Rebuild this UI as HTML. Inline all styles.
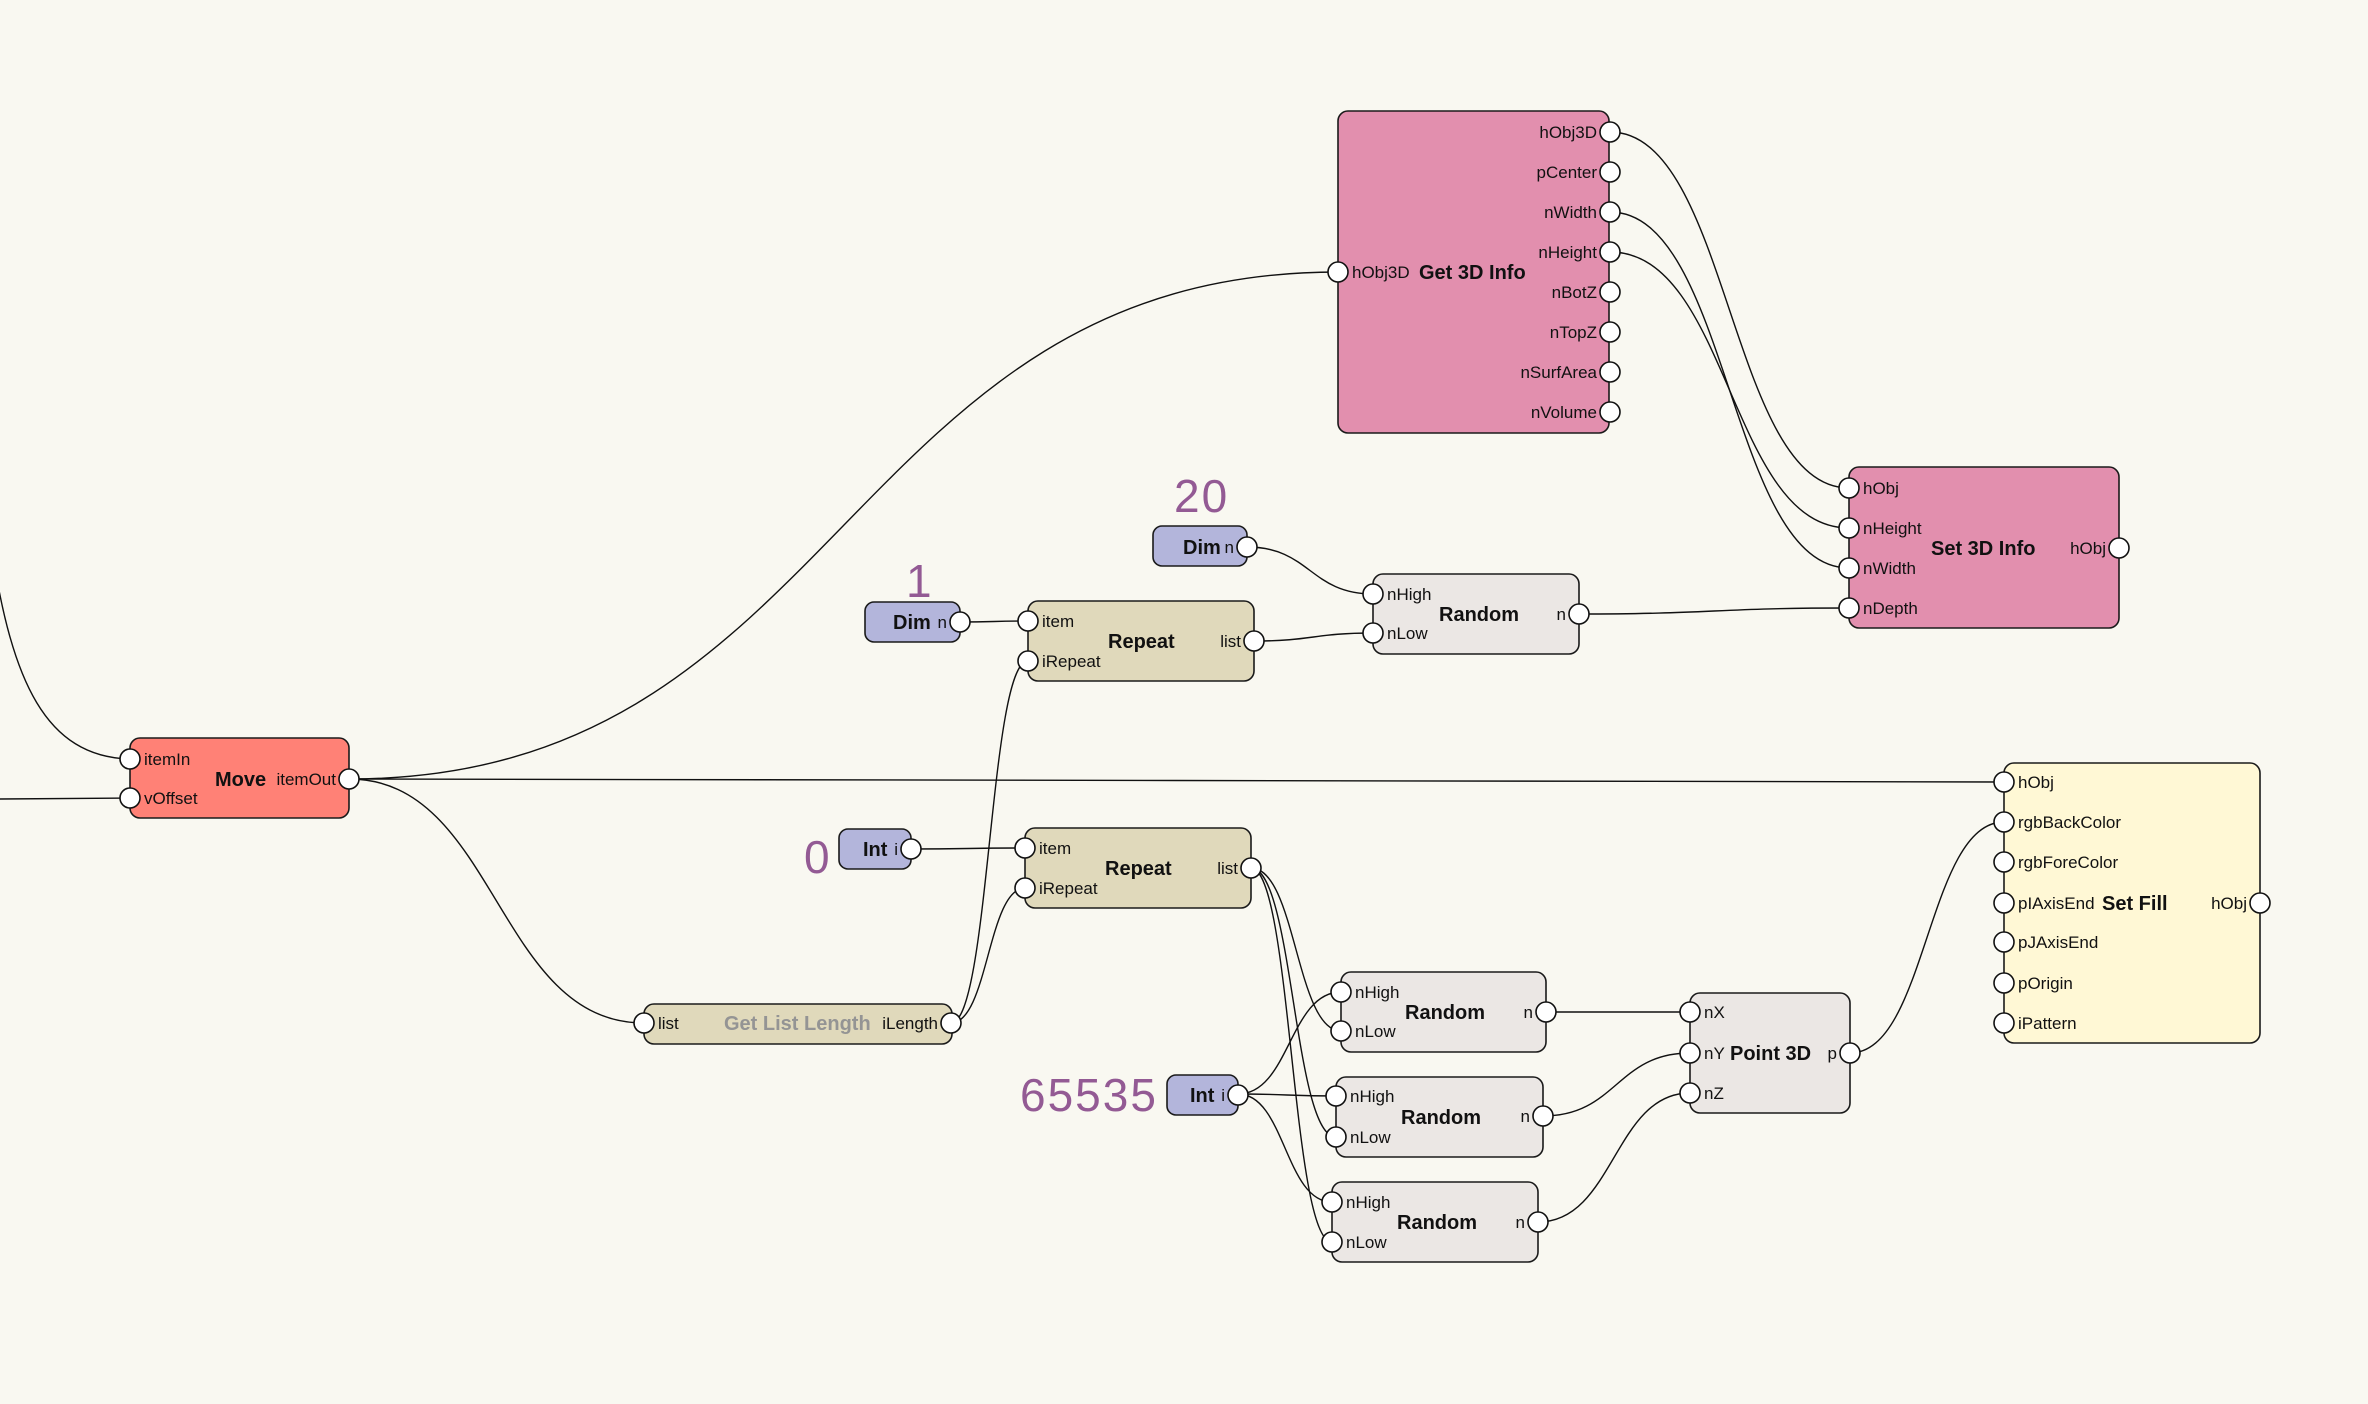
<!DOCTYPE html>
<html><head><meta charset="utf-8"><style>
html,body{margin:0;padding:0;background:#f9f8f1;}
svg{display:block;}
text{font-family:"Liberation Sans",sans-serif;}
.l{font-size:17px;fill:#111;}
.t{font-size:20px;font-weight:bold;fill:#111;}
.num{font-size:46px;fill:#935a94;letter-spacing:2px;}
.e{fill:none;stroke:#111;stroke-width:1.4;}
.n{stroke:#1a1a1a;stroke-width:1.6;}
.p{fill:#fff;stroke:#111;stroke-width:1.6;}
</style></head><body>
<svg width="2368" height="1404" viewBox="0 0 2368 1404" xmlns="http://www.w3.org/2000/svg">
<rect width="2368" height="1404" fill="#f9f8f1"/>
<!-- edges -->
<g class="e">
<path d="M -8 550 C 12 680, 45 757, 130 759"/>
<path d="M 0 799 L 130 798"/>
<path d="M 349 779 C 843.5 779, 843.5 272, 1338 272"/>
<path d="M 349 779 C 1176.5 779, 1176.5 782, 2004 782"/>
<path d="M 349 779 C 496.5 779, 496.5 1023, 644 1023"/>
<path d="M 1610 132 C 1729.5 132, 1729.5 488, 1849 488"/>
<path d="M 1610 212 C 1729.5 212, 1729.5 568, 1849 568"/>
<path d="M 1610 252 C 1729.5 252, 1729.5 528, 1849 528"/>
<path d="M 1579 614 C 1714 614, 1714 608, 1849 608"/>
<path d="M 1247 547 C 1310 547, 1310 594, 1373 594"/>
<path d="M 1254 641 C 1313.5 641, 1313.5 633, 1373 633"/>
<path d="M 960 622 C 994 622, 994 621, 1028 621"/>
<path d="M 911 849 C 968 849, 968 848, 1025 848"/>
<path d="M 951 1023 C 989.5 1023, 989.5 661, 1028 661"/>
<path d="M 951 1023 C 988 1023, 988 888, 1025 888"/>
<path d="M 1251 868 C 1296 868, 1296 1031, 1341 1031"/>
<path d="M 1251 868 C 1293.5 868, 1293.5 1137, 1336 1137"/>
<path d="M 1251 868 C 1291.5 868, 1291.5 1242, 1332 1242"/>
<path d="M 1238 1094 C 1289.5 1094, 1289.5 992, 1341 992"/>
<path d="M 1238 1094 C 1287 1094, 1287 1096, 1336 1096"/>
<path d="M 1238 1094 C 1285 1094, 1285 1202, 1332 1202"/>
<path d="M 1546 1012 L 1690 1012"/>
<path d="M 1543 1116 C 1616.5 1116, 1616.5 1053, 1690 1053"/>
<path d="M 1538 1222 C 1614 1222, 1614 1093, 1690 1093"/>
<path d="M 1850 1053 C 1927 1053, 1927 822, 2004 822"/>
</g>

<!-- nodes -->
<g class="n">
<rect x="1338" y="111" width="271" height="322" rx="10" fill="#e28fae"/>
<rect x="1849" y="467" width="270" height="161" rx="10" fill="#e28fae"/>
<rect x="130" y="738" width="219" height="80" rx="10" fill="#ff8176"/>
<rect x="1153" y="526" width="94" height="40" rx="9" fill="#b3b5db"/>
<rect x="865" y="602" width="95" height="40" rx="9" fill="#b3b5db"/>
<rect x="839" y="829" width="72" height="40" rx="9" fill="#b3b5db"/>
<rect x="1167" y="1075" width="71" height="40" rx="9" fill="#b3b5db"/>
<rect x="1028" y="601" width="226" height="80" rx="10" fill="#e0d9bb"/>
<rect x="1025" y="828" width="226" height="80" rx="10" fill="#e0d9bb"/>
<rect x="644" y="1004" width="308" height="40" rx="10" fill="#e0d9bb"/>
<rect x="1373" y="574" width="206" height="80" rx="10" fill="#ebe7e4"/>
<rect x="1341" y="972" width="205" height="80" rx="10" fill="#ebe7e4"/>
<rect x="1336" y="1077" width="207" height="80" rx="10" fill="#ebe7e4"/>
<rect x="1332" y="1182" width="206" height="80" rx="10" fill="#ebe7e4"/>
<rect x="1690" y="993" width="160" height="120" rx="10" fill="#ebe7e4"/>
<rect x="2004" y="763" width="256" height="280" rx="10" fill="#fff8d5"/>
</g>

<!-- ports -->
<g class="p">
<circle cx="1338" cy="272" r="10"/>
<circle cx="1610" cy="132" r="10"/><circle cx="1610" cy="172" r="10"/><circle cx="1610" cy="212" r="10"/><circle cx="1610" cy="252" r="10"/>
<circle cx="1610" cy="292" r="10"/><circle cx="1610" cy="332" r="10"/><circle cx="1610" cy="372" r="10"/><circle cx="1610" cy="412" r="10"/>
<circle cx="1849" cy="488" r="10"/><circle cx="1849" cy="528" r="10"/><circle cx="1849" cy="568" r="10"/><circle cx="1849" cy="608" r="10"/>
<circle cx="2119" cy="548" r="10"/>
<circle cx="130" cy="759" r="10"/><circle cx="130" cy="798" r="10"/><circle cx="349" cy="779" r="10"/>
<circle cx="1247" cy="547" r="10"/>
<circle cx="960" cy="622" r="10"/>
<circle cx="911" cy="849" r="10"/>
<circle cx="1238" cy="1095" r="10"/>
<circle cx="1028" cy="621" r="10"/><circle cx="1028" cy="661" r="10"/><circle cx="1254" cy="641" r="10"/>
<circle cx="1025" cy="848" r="10"/><circle cx="1025" cy="888" r="10"/><circle cx="1251" cy="868" r="10"/>
<circle cx="644" cy="1023" r="10"/><circle cx="951" cy="1023" r="10"/>
<circle cx="1373" cy="594" r="10"/><circle cx="1373" cy="633" r="10"/><circle cx="1579" cy="614" r="10"/>
<circle cx="1341" cy="992" r="10"/><circle cx="1341" cy="1031" r="10"/><circle cx="1546" cy="1012" r="10"/>
<circle cx="1336" cy="1096" r="10"/><circle cx="1336" cy="1137" r="10"/><circle cx="1543" cy="1116" r="10"/>
<circle cx="1332" cy="1202" r="10"/><circle cx="1332" cy="1242" r="10"/><circle cx="1538" cy="1222" r="10"/>
<circle cx="1690" cy="1012" r="10"/><circle cx="1690" cy="1053" r="10"/><circle cx="1690" cy="1093" r="10"/><circle cx="1850" cy="1053" r="10"/>
<circle cx="2004" cy="782" r="10"/><circle cx="2004" cy="822" r="10"/><circle cx="2004" cy="862" r="10"/><circle cx="2004" cy="903" r="10"/>
<circle cx="2004" cy="942" r="10"/><circle cx="2004" cy="983" r="10"/><circle cx="2004" cy="1023" r="10"/>
<circle cx="2260" cy="903" r="10"/>
</g>

<!-- labels -->
<!-- Get 3D Info -->
<text class="l" x="1352" y="278">hObj3D</text>
<text class="t" x="1419" y="279">Get 3D Info</text>
<g class="l" text-anchor="end">
<text class="l" x="1597" y="138">hObj3D</text>
<text class="l" x="1597" y="178">pCenter</text>
<text class="l" x="1597" y="218">nWidth</text>
<text class="l" x="1597" y="258">nHeight</text>
<text class="l" x="1597" y="298">nBotZ</text>
<text class="l" x="1597" y="338">nTopZ</text>
<text class="l" x="1597" y="378">nSurfArea</text>
<text class="l" x="1597" y="418">nVolume</text>
</g>
<!-- Set 3D Info -->
<text class="l" x="1863" y="494">hObj</text>
<text class="l" x="1863" y="534">nHeight</text>
<text class="l" x="1863" y="574">nWidth</text>
<text class="l" x="1863" y="614">nDepth</text>
<text class="t" x="1931" y="555">Set 3D Info</text>
<text class="l" x="2106" y="554" text-anchor="end">hObj</text>
<!-- Move -->
<text class="l" x="144" y="765">itemIn</text>
<text class="l" x="144" y="804">vOffset</text>
<text class="t" x="215" y="786">Move</text>
<text class="l" x="336" y="785" text-anchor="end">itemOut</text>
<!-- Dim 20 -->
<text class="num" x="1174" y="512">20</text>
<text class="t" x="1183" y="554">Dim</text>
<text class="l" x="1234" y="553" text-anchor="end">n</text>
<!-- Random top -->
<text class="l" x="1387" y="600">nHigh</text>
<text class="l" x="1387" y="639">nLow</text>
<text class="t" x="1439" y="621">Random</text>
<text class="l" x="1566" y="620" text-anchor="end">n</text>
<!-- Dim 1 -->
<text class="num" x="906" y="597">1</text>
<text class="t" x="893" y="629">Dim</text>
<text class="l" x="947" y="628" text-anchor="end">n</text>
<!-- Repeat top -->
<text class="l" x="1042" y="627">item</text>
<text class="l" x="1042" y="667">iRepeat</text>
<text class="t" x="1108" y="648">Repeat</text>
<text class="l" x="1241" y="647" text-anchor="end">list</text>
<!-- Int 0 -->
<text class="num" x="804" y="873">0</text>
<text class="t" x="863" y="856">Int</text>
<text class="l" x="898" y="855" text-anchor="end">i</text>
<!-- Repeat bottom -->
<text class="l" x="1039" y="854">item</text>
<text class="l" x="1039" y="894">iRepeat</text>
<text class="t" x="1105" y="875">Repeat</text>
<text class="l" x="1238" y="874" text-anchor="end">list</text>
<!-- Get List Length -->
<text class="l" x="658" y="1029">list</text>
<text x="724" y="1030" style="font-size:20px;font-weight:bold;fill:#949494;">Get List Length</text>
<text class="l" x="938" y="1029" text-anchor="end">iLength</text>
<!-- Int 65535 -->
<text class="num" x="1020" y="1111">65535</text>
<text class="t" x="1190" y="1102">Int</text>
<text class="l" x="1225" y="1101" text-anchor="end">i</text>
<!-- Random 2 -->
<text class="l" x="1355" y="998">nHigh</text>
<text class="l" x="1355" y="1037">nLow</text>
<text class="t" x="1405" y="1019">Random</text>
<text class="l" x="1533" y="1018" text-anchor="end">n</text>
<!-- Random 3 -->
<text class="l" x="1350" y="1102">nHigh</text>
<text class="l" x="1350" y="1143">nLow</text>
<text class="t" x="1401" y="1124">Random</text>
<text class="l" x="1530" y="1122" text-anchor="end">n</text>
<!-- Random 4 -->
<text class="l" x="1346" y="1208">nHigh</text>
<text class="l" x="1346" y="1248">nLow</text>
<text class="t" x="1397" y="1229">Random</text>
<text class="l" x="1525" y="1228" text-anchor="end">n</text>
<!-- Point 3D -->
<text class="l" x="1704" y="1018">nX</text>
<text class="l" x="1704" y="1059">nY</text>
<text class="l" x="1704" y="1099">nZ</text>
<text class="t" x="1730" y="1060">Point 3D</text>
<text class="l" x="1837" y="1059" text-anchor="end">p</text>
<!-- Set Fill -->
<text class="l" x="2018" y="788">hObj</text>
<text class="l" x="2018" y="828">rgbBackColor</text>
<text class="l" x="2018" y="868">rgbForeColor</text>
<text class="l" x="2018" y="909">pIAxisEnd</text>
<text class="l" x="2018" y="948">pJAxisEnd</text>
<text class="l" x="2018" y="989">pOrigin</text>
<text class="l" x="2018" y="1029">iPattern</text>
<text class="t" x="2102" y="910">Set Fill</text>
<text class="l" x="2247" y="909" text-anchor="end">hObj</text>
</svg>
</body></html>
